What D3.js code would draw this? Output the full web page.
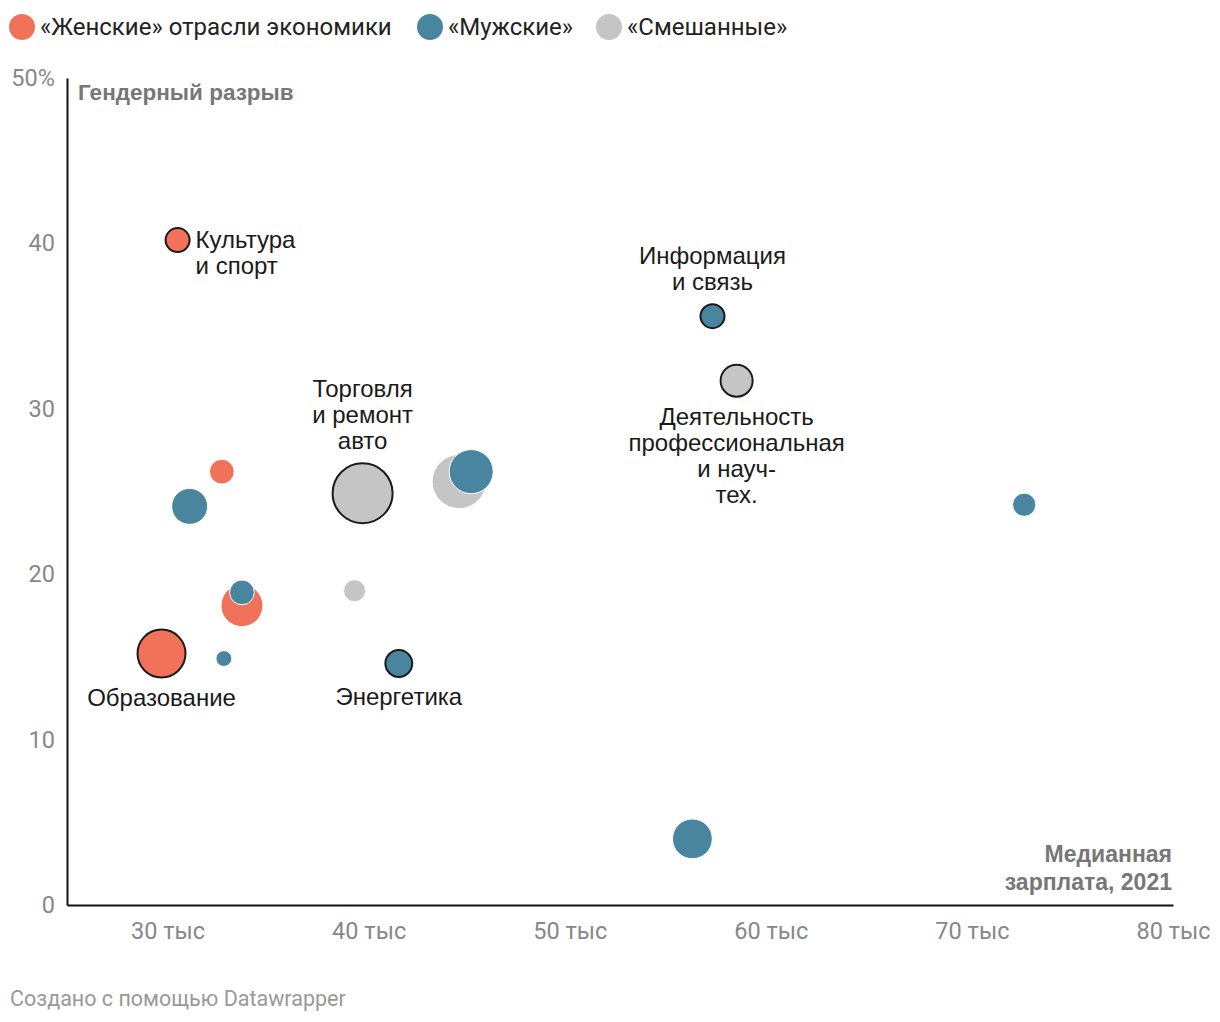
<!DOCTYPE html>
<html><head><meta charset="utf-8">
<script src="https://cdn.jsdelivr.net/npm/d3@7"></script>
<style>body{margin:0;background:#fff}svg{display:block}</style>
</head><body>
<script>
// Data
const groups = ["f","m","x"];
const groupLabels = ["«Женские» отрасли экономики","«Мужские»","«Смешанные»"];
const groupColors = ["#f27259","#4a85a0","#c5c5c5"];
const salary = [30.5, 32.7, 31.1, 33.7, 33.7, 29.7, 32.8, 39.7, 39.3, 41.5, 44.5, 45.1, 57.1, 58.3, 72.6, 56.1];
const gap    = [40.2, 26.2, 24.1, 18.1, 18.9, 15.2, 14.9, 24.9, 19.0, 14.6, 25.6, 26.2, 35.6, 31.7, 24.2, 4.0];
const group  = ["f","f","m","f","m","f","m","x","x","m","x","m","m","x","m","m"];
const size   = [160, 170, 360, 490, 170, 640, 70, 1000, 135, 200, 810, 540, 160, 285, 150, 440];
const highlighted = [1,0,0,0,0,1,0,1,0,1,0,0,1,1,0,0];
const labels = [["Культура","и спорт"],null,null,null,null,["Образование"],null,["Торговля","и ремонт","авто"],null,["Энергетика"],null,null,["Информация","и связь"],["Деятельность","профессиональная","и науч-","тех."],null,null];
const labelPos = ["right",null,null,null,null,"below",null,"above",null,"below",null,null,"above","below",null,null];
const xTicks = [30,40,50,60,70,80];
const yTicks = [0,10,20,30,40,50];

const W=1220,H=1022;
const svg=d3.select("body").append("svg").attr("width",W).attr("height",H);
const x=d3.scaleLinear().domain([25,80]).range([67,1173]);
const y=d3.scaleLinear().domain([0,50]).range([905,78]);
const r=d3.scaleSqrt().domain([0,1000]).range([0,30]);
const color=d3.scaleOrdinal().domain(groups).range(groupColors);

// Legend
const lg=svg.append("g");
const legX=[22,430,609];
groups.forEach((g,i)=>{
  lg.append("circle").attr("cx",legX[i]).attr("cy",27).attr("r",13).attr("fill",groupColors[i]);
  lg.append("text").attr("x",legX[i]+18).attr("y",35).text(groupLabels[i])
    .style("font-family","Roboto").style("font-size","24px").attr("fill","#222");
});

// Axes
const yAxis=svg.append("g").attr("transform","translate(67,0)")
  .call(d3.axisLeft(y).tickValues(yTicks).tickSize(0).tickPadding(12).tickFormat(d=>d===50?"50%":d));
yAxis.select(".domain").attr("stroke","#111").attr("stroke-width",2);
yAxis.selectAll("text").style("font-family","Roboto").style("font-size","23.5px").attr("fill","#888");

const xAxis=svg.append("g").attr("transform","translate(0,905)")
  .call(d3.axisBottom(x).tickValues(xTicks).tickSize(0).tickPadding(17).tickFormat(d=>d+" тыс"));
xAxis.select(".domain").attr("stroke","#111").attr("stroke-width",2);
xAxis.selectAll("text").style("font-family","Roboto").style("font-size","23.5px").attr("fill","#888");

// Axis titles
svg.append("text").attr("x",78).attr("y",100).text("Гендерный разрыв")
  .style("font-family","Liberation Sans").style("font-weight","bold").style("font-size","22.5px").attr("fill","#777");
const xt=svg.append("text").attr("text-anchor","end")
  .style("font-family","Liberation Sans").style("font-weight","bold").style("font-size","23px").attr("fill","#777");
xt.append("tspan").attr("x",1172).attr("y",862).text("Медианная");
xt.append("tspan").attr("x",1172).attr("y",890).text("зарплата, 2021");

// Points
const idx=d3.range(salary.length);
svg.append("g").selectAll("circle").data(idx).join("circle")
  .attr("cx",i=>x(salary[i])).attr("cy",i=>y(gap[i])).attr("r",i=>r(size[i]))
  .attr("fill",i=>color(group[i]))
  .attr("stroke",i=>highlighted[i]?"#1a1a1a":"#fff")
  .attr("stroke-width",i=>highlighted[i]?2:1);

// Labels
const lgp=svg.append("g").style("font-family","Liberation Sans").style("font-size","24px").attr("fill","#1a1a1a");
idx.filter(i=>labels[i]).forEach(i=>{
  const cx=x(salary[i]),cy=y(gap[i]),rr=r(size[i]),lines=labels[i],lh=26;
  const t=lgp.append("text");
  let x0=cx,y0,anchor="middle";
  if(labelPos[i]==="right"){x0=cx+rr+6;anchor="start";y0=cy+8;}
  else if(labelPos[i]==="above"){y0=cy-rr-14-(lines.length-1)*lh;}
  else {y0=cy+rr+28;}
  t.attr("text-anchor",anchor);
  lines.forEach((l,k)=>t.append("tspan").attr("x",x0).attr("y",y0+k*lh).text(l));
});

// Footer
svg.append("text").attr("x",10).attr("y",1006).text("Создано с помощью Datawrapper")
  .style("font-family","Roboto").style("font-size","21.5px").attr("fill","#999");
</script>
</body></html>
